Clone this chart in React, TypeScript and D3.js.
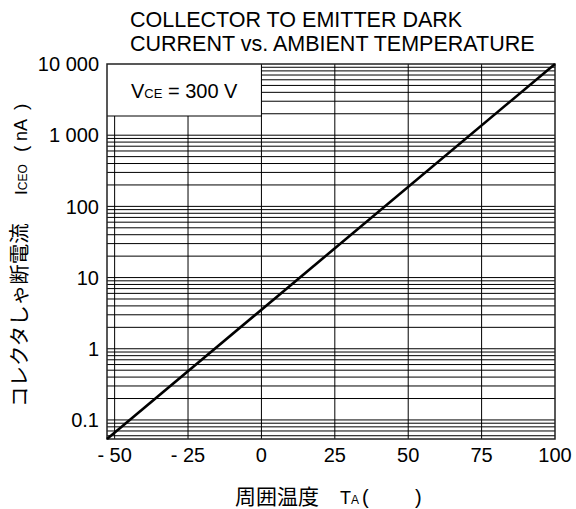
import React from "react";
import * as d3 from "d3";

const TITLE_LINES = ["COLLECTOR TO EMITTER DARK", "CURRENT vs. AMBIENT TEMPERATURE"];
const X_TICKS = [-50, -25, 0, 25, 50, 75, 100];
const X_TICK_LABELS = ["- 50", "- 25", "0", "25", "50", "75", "100"];
const Y_TICKS = [0.1, 1, 10, 100, 1000, 10000];
const Y_TICK_LABELS = ["0.1", "1", "10", "100", "1 000", "10 000"];
const X_DOMAIN = [-52.6, 100];
const Y_DOMAIN = [0.054, 10000];
// series: ambient temperature (°C) vs. dark current (nA)
const SERIES_T = [-52.6, 100];
const SERIES_I = [0.054, 10000];

const LATIN = "'Liberation Sans', Arial, Helvetica, sans-serif";
const CJK = "'Noto Sans CJK JP', 'Noto Sans CJK SC', sans-serif";

export default function App() {
  const W = 576, H = 509;
  const left = 107, right = 555, top = 64, bottom = 439;
  const x = d3.scaleLinear().domain(X_DOMAIN).range([left, right]);
  const y = d3.scaleLog().domain(Y_DOMAIN).range([bottom, top]);

  const minor: number[] = [];
  for (let n = -2; n <= 3; n++) {
    for (let k = 1; k <= 9; k++) {
      const v = k * Math.pow(10, n);
      if (v > Y_DOMAIN[0] && v < Y_DOMAIN[1]) minor.push(v);
    }
  }
  const vGrid = X_TICKS.filter((t) => t < 100);

  const pts = SERIES_T.map((t, i) => [t, SERIES_I[i]] as [number, number]);
  const line = d3
    .line<[number, number]>()
    .x((d) => x(d[0]))
    .y((d) => y(d[1]));

  const boxRight = x(0);
  const boxBottom = 116;

  return (
    <svg
      width={W}
      height={H}
      style={{ position: "absolute", left: 0, top: 0, background: "#fff" }}
    >
      <rect x={0} y={0} width={W} height={H} fill="#fff" />
      {/* title */}
      {TITLE_LINES.map((t, i) => (
        <text
          key={i}
          x={130}
          y={27 + i * 23.5}
          fontFamily={LATIN}
          fontSize={21.5}
          fill="#000"
        >
          {t}
        </text>
      ))}
      {/* horizontal grid */}
      {minor.map((v, i) => (
        <line
          key={"h" + i}
          x1={left}
          x2={right}
          y1={y(v)}
          y2={y(v)}
          stroke="#000"
          strokeWidth={1}
        />
      ))}
      {/* vertical grid */}
      {vGrid.map((t, i) => (
        <line
          key={"v" + i}
          x1={x(t)}
          x2={x(t)}
          y1={top}
          y2={bottom}
          stroke="#000"
          strokeWidth={1}
        />
      ))}
      {/* label box */}
      <rect
        x={left}
        y={top}
        width={boxRight - left}
        height={boxBottom - top}
        fill="#fff"
      />
      <line
        x1={left}
        x2={boxRight}
        y1={boxBottom}
        y2={boxBottom}
        stroke="#000"
        strokeWidth={1}
      />
      <line
        x1={boxRight}
        x2={boxRight}
        y1={top}
        y2={boxBottom}
        stroke="#000"
        strokeWidth={1}
      />
      <text
        x={(left + boxRight) / 2}
        y={98}
        textAnchor="middle"
        fontFamily={LATIN}
        fontSize={20}
        fill="#000"
      >
        V<tspan fontSize={13}>CE</tspan> = 300 V
      </text>
      {/* frame */}
      <rect
        x={left}
        y={top}
        width={right - left}
        height={bottom - top}
        fill="none"
        stroke="#222"
        strokeWidth={1.5}
      />
      {/* series */}
      <path
        d={line(pts) || ""}
        fill="none"
        stroke="#000"
        strokeWidth={2.6}
      />
      {/* x tick labels */}
      {X_TICKS.map((t, i) => (
        <text
          key={"xt" + i}
          x={x(t)}
          y={462}
          textAnchor="middle"
          fontFamily={LATIN}
          fontSize={20}
          fill="#000"
        >
          {X_TICK_LABELS[i]}
        </text>
      ))}
      {/* y tick labels */}
      {Y_TICKS.map((v, i) => (
        <text
          key={"yt" + i}
          x={99}
          y={y(v)}
          dy="0.36em"
          textAnchor="end"
          fontFamily={LATIN}
          fontSize={20}
          fill="#000"
        >
          {Y_TICK_LABELS[i]}
        </text>
      ))}
      {/* x axis title */}
      <text y={504} fill="#000">
        <tspan x={235} fontFamily={CJK} fontSize={21}>
          周囲温度
        </tspan>
        <tspan x={340} fontFamily={LATIN} fontSize={18}>
          T
        </tspan>
        <tspan fontFamily={LATIN} fontSize={12}>
          A
        </tspan>
        <tspan x={362} fontFamily={LATIN} fontSize={20}>
          (
        </tspan>
        <tspan x={415} fontFamily={LATIN} fontSize={20}>
          )
        </tspan>
      </text>
      {/* y axis title */}
      <g transform="translate(27,407) rotate(-90)">
        <text y={0} fill="#000">
          <tspan x={0} fontFamily={CJK} fontSize={20.5}>
            コレクタしゃ断電流
          </tspan>
          <tspan x={212} fontFamily={LATIN} fontSize={17}>
            I
          </tspan>
          <tspan fontFamily={LATIN} fontSize={12}>
            CEO
          </tspan>
          <tspan x={255} fontFamily={LATIN} fontSize={19}>
            (
          </tspan>
          <tspan x={266} fontFamily={LATIN} fontSize={18}>
            nA
          </tspan>
          <tspan x={297} fontFamily={LATIN} fontSize={19}>
            )
          </tspan>
        </text>
      </g>
    </svg>
  );
}
